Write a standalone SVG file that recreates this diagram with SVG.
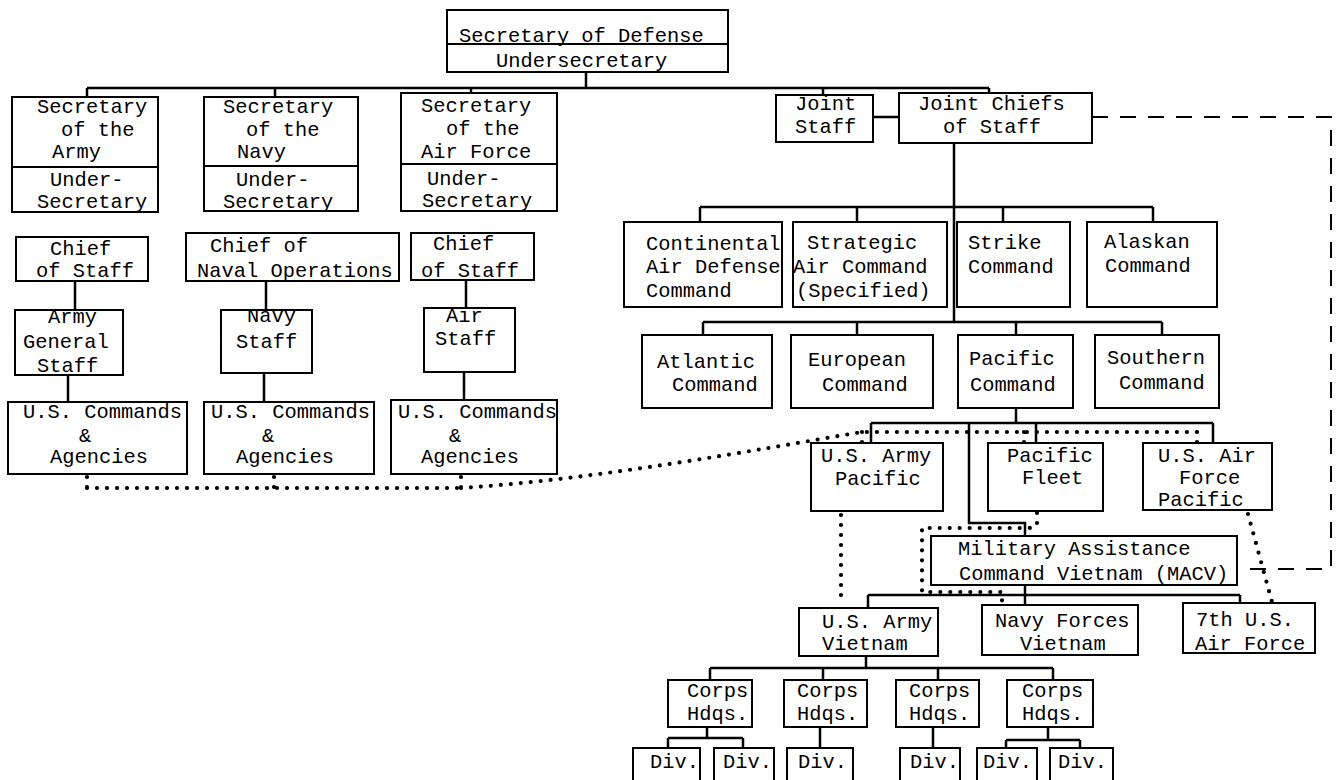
<svg xmlns="http://www.w3.org/2000/svg" width="1338" height="780" viewBox="0 0 1338 780">
<style>
.box{fill:#fff;stroke:#000;stroke-width:2}
.div{stroke:#000;stroke-width:2}
text{font-family:"Liberation Mono","DejaVu Sans Mono",monospace;font-size:20.4px;fill:#000}
.ln{stroke:#000;stroke-width:2.5;fill:none}
.dot{stroke:#000;stroke-width:4.2;stroke-linecap:round;stroke-dasharray:0 10;fill:none}
.dash{stroke:#000;stroke-width:2;stroke-dasharray:16 12;fill:none}
</style>
<rect width="1338" height="780" fill="#fff"/>
<g id="connectors">
<path class="ln" d="M586,72V88 M87,88H989 M87,88V97 M275,88V97 M471,88V93 M823,88V95 M989,88V93"/>
<path class="ln" d="M873,117H899 M954,143V322 M700,207H1153 M700,207V222 M857,207V222 M1003,207V222 M1153,207V222"/>
<path class="ln" d="M703,322H1162 M703,322V335 M857,322V335 M1016,322V335 M1162,322V335"/>
<path class="ln" d="M1016,408V423 M871,423H1213 M871,423V443 M1036,423V443 M1213,423V443 M969,423V523H1025V536"/>
<path class="ln" d="M1025,585V605 M868,595H1240 M868,595V608 M1240,595V603"/>
<path class="ln" d="M866,656V668 M710,668H1053 M710,668V680 M823,668V680 M938,668V680 M1053,668V680"/>
<path class="ln" d="M707,727V738 M668,738H743 M668,738V748 M743,738V748 M820,727V748 M933,727V748 M1048,727V740 M1006,740H1080 M1006,740V748 M1080,740V748"/>
<path class="ln" d="M75,280V310 M266,282V310 M466,280V308 M68,375V402 M264,373V402 M464,372V400"/>
<path class="dash" d="M1092,117H1331V569H1237"/>
<path class="dot" d="M87,477V488 M274,477V488 M461,477V488 M87,488H461 M461,488C600,479 755,450 862,432H1197 M862,432V443 M1024,432V443 M1197,432V443"/>
<path class="dot" d="M841,515V605"/>
<path class="dot" d="M1037,513V524Q1037,528 1027,528H922V592H1002V605"/>
<path class="dot" d="M1248,514L1272,602"/>
</g>
<g id="secdef"><rect class="box" x="447" y="10" width="281" height="62"/><line class="div" x1="447" y1="44" x2="728" y2="44"/><text x="459" y="42">Secretary of Defense</text><text x="496" y="67">Undersecretary</text></g>
<g id="sec-army"><rect class="box" x="12" y="97" width="146" height="115"/><line class="div" x1="12" y1="167" x2="158" y2="167"/><text x="37" y="113">Secretary</text><text x="61" y="136">of the</text><text x="52" y="158">Army</text><text x="50" y="186">Under-</text><text x="37" y="208">Secretary</text></g>
<g id="sec-navy"><rect class="box" x="204" y="97" width="154" height="114"/><line class="div" x1="204" y1="166" x2="358" y2="166"/><text x="223" y="113">Secretary</text><text x="246" y="136">of the</text><text x="237" y="158">Navy</text><text x="236" y="186">Under-</text><text x="223" y="208">Secretary</text></g>
<g id="sec-af"><rect class="box" x="401" y="93" width="156" height="118"/><line class="div" x1="401" y1="164" x2="557" y2="164"/><text x="421" y="112">Secretary</text><text x="446" y="135">of the</text><text x="421" y="158">Air Force</text><text x="427" y="185">Under-</text><text x="422" y="207">Secretary</text></g>
<g id="cos-army"><rect class="box" x="16" y="237" width="132" height="44"/><text x="50" y="255">Chief</text><text x="36" y="277">of Staff</text></g>
<g id="cno"><rect class="box" x="186" y="233" width="213" height="48"/><text x="210" y="252">Chief of</text><text x="197" y="277">Naval Operations</text></g>
<g id="cos-af"><rect class="box" x="411" y="233" width="123" height="47"/><text x="433" y="250">Chief</text><text x="421" y="277">of Staff</text></g>
<g id="army-staff"><rect class="box" x="15" y="310" width="108" height="65"/><text x="48" y="323">Army</text><text x="23" y="348">General</text><text x="37" y="372">Staff</text></g>
<g id="navy-staff"><rect class="box" x="221" y="310" width="91" height="63"/><text x="247" y="322">Navy</text><text x="236" y="348">Staff</text></g>
<g id="air-staff"><rect class="box" x="424" y="308" width="91" height="64"/><text x="446" y="322">Air</text><text x="435" y="345">Staff</text></g>
<g id="uscmd-army"><rect class="box" x="8" y="402" width="179" height="72"/><text x="23" y="418">U.S. Commands</text><text x="79" y="442">&amp;</text><text x="50" y="463">Agencies</text></g>
<g id="uscmd-navy"><rect class="box" x="204" y="402" width="170" height="72"/><text x="211" y="418">U.S. Commands</text><text x="262" y="442">&amp;</text><text x="236" y="463">Agencies</text></g>
<g id="uscmd-af"><rect class="box" x="391" y="400" width="166" height="74"/><text x="398" y="418">U.S. Commands</text><text x="449" y="442">&amp;</text><text x="421" y="463">Agencies</text></g>
<g id="joint-staff"><rect class="box" x="776" y="95" width="97" height="47"/><text x="795" y="110">Joint</text><text x="795" y="133">Staff</text></g>
<g id="jcs"><rect class="box" x="899" y="93" width="193" height="50"/><text x="918" y="110">Joint Chiefs</text><text x="943" y="133">of Staff</text></g>
<g id="conad"><rect class="box" x="624" y="222" width="158" height="85"/><text x="646" y="250">Continental</text><text x="646" y="273">Air Defense</text><text x="646" y="297">Command</text></g>
<g id="sac"><rect class="box" x="793" y="222" width="154" height="85"/><text x="807" y="249">Strategic</text><text x="793" y="273">Air Command</text><text x="796" y="297">(Specified)</text></g>
<g id="strike"><rect class="box" x="957" y="222" width="113" height="85"/><text x="968" y="249">Strike</text><text x="968" y="273">Command</text></g>
<g id="alaskan"><rect class="box" x="1087" y="222" width="130" height="85"/><text x="1104" y="248">Alaskan</text><text x="1105" y="272">Command</text></g>
<g id="atlantic"><rect class="box" x="642" y="335" width="130" height="73"/><text x="657" y="368">Atlantic</text><text x="672" y="391">Command</text></g>
<g id="european"><rect class="box" x="791" y="335" width="142" height="73"/><text x="808" y="366">European</text><text x="822" y="391">Command</text></g>
<g id="pacific"><rect class="box" x="958" y="335" width="115" height="73"/><text x="969" y="365">Pacific</text><text x="970" y="391">Command</text></g>
<g id="southern"><rect class="box" x="1095" y="335" width="124" height="73"/><text x="1107" y="364">Southern</text><text x="1119" y="389">Command</text></g>
<g id="usarpac"><rect class="box" x="811" y="443" width="132" height="68"/><text x="821" y="462">U.S. Army</text><text x="835" y="485">Pacific</text></g>
<g id="pacflt"><rect class="box" x="988" y="443" width="115" height="68"/><text x="1007" y="462">Pacific</text><text x="1022" y="484">Fleet</text></g>
<g id="pacaf"><rect class="box" x="1143" y="443" width="129" height="67"/><text x="1158" y="462">U.S. Air</text><text x="1179" y="484">Force</text><text x="1158" y="506">Pacific</text></g>
<g id="macv"><rect class="box" x="931" y="536" width="306" height="49"/><text x="958" y="555">Military Assistance</text><text x="959" y="580">Command Vietnam (MACV)</text></g>
<g id="usarv"><rect class="box" x="799" y="608" width="139" height="48"/><text x="822" y="628">U.S. Army</text><text x="822" y="650">Vietnam</text></g>
<g id="navforv"><rect class="box" x="982" y="605" width="156" height="50"/><text x="995" y="627">Navy Forces</text><text x="1020" y="650">Vietnam</text></g>
<g id="seventh-af"><rect class="box" x="1183" y="603" width="132" height="50"/><text x="1196" y="626">7th U.S.</text><text x="1195" y="650">Air Force</text></g>
<g id="corps1"><rect class="box" x="668" y="680" width="84" height="47"/><text x="687" y="697">Corps</text><text x="687" y="720">Hdqs.</text></g>
<g id="corps2"><rect class="box" x="784" y="680" width="83" height="47"/><text x="797" y="697">Corps</text><text x="797" y="720">Hdqs.</text></g>
<g id="corps3"><rect class="box" x="896" y="680" width="83" height="47"/><text x="909" y="697">Corps</text><text x="909" y="720">Hdqs.</text></g>
<g id="corps4"><rect class="box" x="1007" y="680" width="86" height="47"/><text x="1022" y="697">Corps</text><text x="1022" y="720">Hdqs.</text></g>
<g id="div1"><rect class="box" x="633" y="748" width="67" height="45"/><text x="650" y="768">Div.</text></g>
<g id="div2"><rect class="box" x="714" y="748" width="60" height="45"/><text x="723" y="768">Div.</text></g>
<g id="div3"><rect class="box" x="787" y="748" width="66" height="45"/><text x="798" y="768">Div.</text></g>
<g id="div4"><rect class="box" x="900" y="748" width="60" height="45"/><text x="910" y="768">Div.</text></g>
<g id="div5"><rect class="box" x="977" y="748" width="60" height="45"/><text x="983" y="768">Div.</text></g>
<g id="div6"><rect class="box" x="1050" y="748" width="63" height="45"/><text x="1058" y="768">Div.</text></g>
</svg>
